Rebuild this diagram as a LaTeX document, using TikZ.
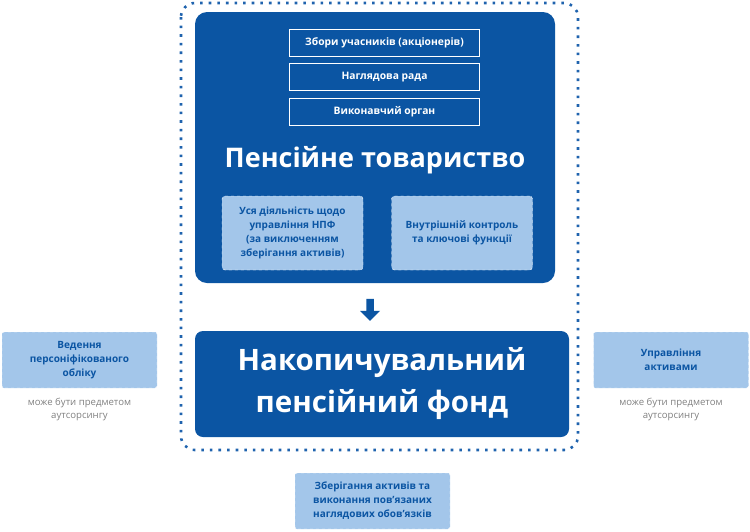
\documentclass[tikz,border=0pt]{standalone}
\usepackage{fontspec}
\setmainfont{Open Sans}
\usetikzlibrary{positioning,shapes.arrows}
\definecolor{npfblue}{HTML}{0B55A3}
\definecolor{npflight}{HTML}{A3C6EA}
\definecolor{npfdots}{HTML}{1F63AE}
\begin{document}
\begin{tikzpicture}[x=1pt,y=-1pt,
    organbox/.style={draw=white, line width=0.8pt, minimum width=190pt, minimum height=27pt,
      text=white, font=\fontsize{10.3}{12}\selectfont\bfseries},
    funcbox/.style={fill=npflight, draw=white, dashed, rounded corners=3pt, minimum width=141pt,
      minimum height=74pt, text=npfblue, align=center, font=\fontsize{10}{14}\selectfont\bfseries},
    outbox/.style={fill=npflight, draw=white, dashed, rounded corners=2pt, minimum width=155pt,
      minimum height=56pt, text=npfblue, align=center, font=\fontsize{10}{14}\selectfont\bfseries},
    note/.style={text=gray, align=center, font=\fontsize{9.6}{13}\selectfont}]

  \useasboundingbox (0,0) rectangle (750,531);

  % dotted frame
  \draw[npfdots, line width=2.6pt, dash pattern=on 2.6pt off 6pt, rounded corners=14pt]
    (181,3) rectangle (578,450);

  % pension company
  \fill[npfblue, rounded corners=12pt] (195,12) rectangle (555,283);
  \node[organbox] (meeting) at (384.5,42.5) {Збори учасників (акціонерів)};
  \node[organbox, below=7pt of meeting] (board) {Наглядова рада};
  \node[organbox, below=7pt of board] (exec) {Виконавчий орган};
  \node[text=white, font=\fontsize{27}{30}\selectfont\bfseries] (company) at (375,160)
    {Пенсійне товариство};
  \node[funcbox] (manage) at (292.5,233) {Уся діяльність щодо\\управління НПФ\\(за виключенням\\зберігання активів)};
  \node[funcbox] (control) at (462,233) {Внутрішній контроль\\та ключові функції};

  % arrow
  \node[single arrow, fill=npfblue, rotate=-90, minimum height=22pt, minimum width=20pt,
    single arrow head extend=2pt, inner sep=1pt] (arrow) at (370,308) {};

  % fund
  \fill[npfblue, rounded corners=8pt] (195,331) rectangle (569,437);
  \node[text=white, align=center, font=\fontsize{29.5}{42}\selectfont\bfseries] (fund) at (382,384)
    {Накопичувальний\\пенсійний фонд};

  % outsourced functions
  \node[outbox] (records) at (79.5,360) {Ведення\\персоніфікованого\\обліку};
  \node[note, below=6pt of records] (recnote) {може бути предметом\\аутсорсингу};
  \node[outbox] (assets) at (671,360) {Управління\\активами};
  \node[note, below=6pt of assets] (assnote) {може бути предметом\\аутсорсингу};
  \node[outbox] (custody) at (372.5,501) {Зберігання активів та\\виконання пов'язаних\\наглядових обов'язків};
\end{tikzpicture}
\end{document}
